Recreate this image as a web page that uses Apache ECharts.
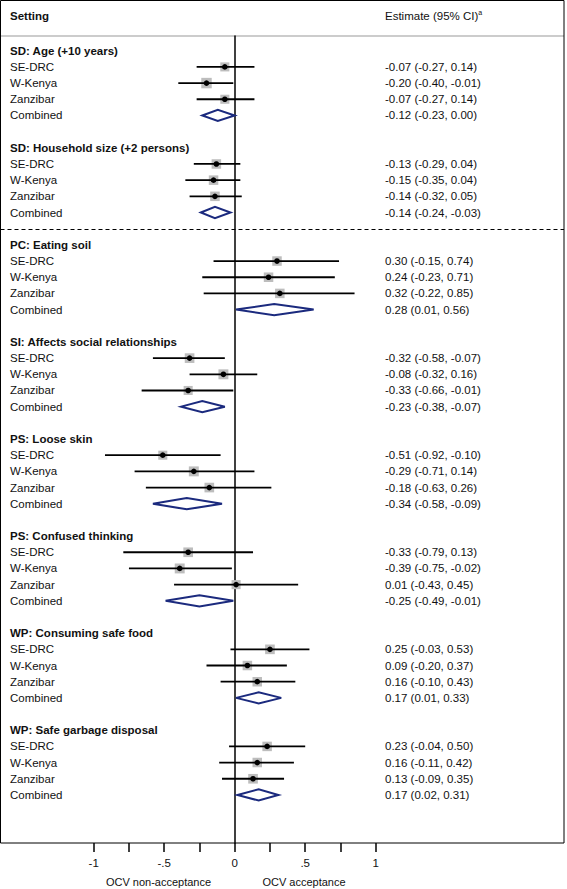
<!DOCTYPE html>
<html><head><meta charset="utf-8">
<script src="https://cdn.jsdelivr.net/npm/echarts@6/dist/echarts.min.js"></script>
<style>html,body{margin:0;padding:0;background:#fff}#chart{width:567px;height:889px}</style>
</head><body><div id="chart"></div>
<script>
// ---------- data ----------
const sectionTitles = ['SD: Age (+10 years)', 'SD: Household size (+2 persons)', 'PC: Eating soil',
  'SI: Affects social relationships', 'PS: Loose skin', 'PS: Confused thinking',
  'WP: Consuming safe food', 'WP: Safe garbage disposal'];
const settings = ['SE-DRC', 'W-Kenya', 'Zanzibar'];
const combinedLabel = 'Combined';
const studyEst = [[-0.07,-0.20,-0.07],[-0.13,-0.15,-0.14],[0.30,0.24,0.32],[-0.32,-0.08,-0.33],
  [-0.51,-0.29,-0.18],[-0.33,-0.39,0.01],[0.25,0.09,0.16],[0.23,0.16,0.13]];
const studyLo = [[-0.27,-0.40,-0.27],[-0.29,-0.35,-0.32],[-0.15,-0.23,-0.22],[-0.58,-0.32,-0.66],
  [-0.92,-0.71,-0.63],[-0.79,-0.75,-0.43],[-0.03,-0.20,-0.10],[-0.04,-0.11,-0.09]];
const studyHi = [[0.14,-0.01,0.14],[0.04,0.04,0.05],[0.74,0.71,0.85],[-0.07,0.16,-0.01],
  [-0.10,0.14,0.26],[0.13,-0.02,0.45],[0.53,0.37,0.43],[0.50,0.42,0.35]];
const studyWeight = [[30,40,30],[33,33,33],[33,33,33],[34,36,30],[30,36,34],[34,36,30],[34,33,33],[33,33,34]];
const combEst = [-0.12,-0.14,0.28,-0.23,-0.34,-0.25,0.17,0.17];
const combLo = [-0.23,-0.24,0.01,-0.38,-0.58,-0.49,0.01,0.02];
const combHi = [0.00,-0.03,0.56,-0.07,-0.09,-0.01,0.33,0.31];
const xTickLabels = {'-1':'-1','-0.5':'-.5','0':'0','0.5':'.5','1':'1'};
const sideLabels = ['OCV non-acceptance', 'OCV acceptance'];
const headerLeft = 'Setting';
const headerRight = 'Estimate (95% CI)';
const headerSup = 'a';
const dividerAfterSection = 1;

// ---------- build rows ----------
const ROWS_PER_SECTION = 6;
const fmt = v => v.toFixed(2);
const ciText = (e, l, h) => fmt(e) + ' (' + fmt(l) + ', ' + fmt(h) + ')';
const labelRows = [], studyData = [], diamondData = [];
sectionTitles.forEach((t, s) => {
  const base = s * ROWS_PER_SECTION;
  labelRows.push({row: base, text: t, bold: true, est: ''});
  settings.forEach((name, i) => {
    labelRows.push({row: base + 1 + i, text: name, bold: false,
      est: ciText(studyEst[s][i], studyLo[s][i], studyHi[s][i])});
    studyData.push([studyEst[s][i], studyLo[s][i], studyHi[s][i], base + 1 + i, studyWeight[s][i]]);
  });
  labelRows.push({row: base + 4, text: combinedLabel, bold: false, est: ciText(combEst[s], combLo[s], combHi[s])});
  diamondData.push([combEst[s], combLo[s], combHi[s], base + 4]);
});
const dividerRow = dividerAfterSection * ROWS_PER_SECTION + 5;

// ---------- layout ----------
const FONT = '"Liberation Sans", Arial, Helvetica, sans-serif';
const FS = 11.5;
const LEFT_X = 10, EST_X = 385;
const FRAME_R = 564, FRAME_B = 843, HEAD_Y = 36;

const chart = echarts.init(document.getElementById('chart'), null, {renderer: 'svg'});

function txt(text, x, y, bold, align) {
  return {type: 'text', style: {text: text, x: x, y: y, fill: '#111',
    font: (bold ? 'bold ' : '') + FS + 'px ' + FONT,
    align: align || 'left', verticalAlign: 'middle', textAlign: align || 'left', textVerticalAlign: 'middle'}};
}

const option = {
  animation: false,
  backgroundColor: '#fff',
  grid: {left: 93.7, width: 282, top: HEAD_Y, bottom: 889 - FRAME_B},
  xAxis: {type: 'value', min: -1, max: 1, interval: 0.25, position: 'bottom',
    axisLine: {show: false, onZero: false},
    axisTick: {show: true, length: 9, lineStyle: {color: '#000', width: 1.5}},
    splitLine: {show: false},
    axisLabel: {margin: 14, color: '#111', fontFamily: FONT, fontSize: 11.5,
      formatter: v => { const k = String(Math.round(v * 100) / 100); return xTickLabels[k] !== undefined ? xTickLabels[k] : ''; }}
  },
  yAxis: {type: 'value', inverse: true, min: -0.91, max: 48.97,
    axisLine: {show: true, onZero: true, lineStyle: {color: '#000', width: 1.5}},
    axisTick: {show: false}, axisLabel: {show: false}, splitLine: {show: false}
  },
  graphic: [
    {type: 'rect', shape: {x: 0.5, y: 0.5, width: FRAME_R - 0.5, height: FRAME_B - 0.5},
      style: {fill: 'none', stroke: '#000', lineWidth: 1}, z: 10},
    {type: 'line', shape: {x1: 0.5, y1: HEAD_Y, x2: FRAME_R, y2: HEAD_Y}, style: {stroke: '#999', lineWidth: 1}},
    {type: 'text', left: LEFT_X, top: 10, style: {text: headerLeft, font: 'bold ' + FS + 'px ' + FONT, fill: '#111'}},
    {type: 'text', left: EST_X, top: 9, style: {text: '{n|' + headerRight + '}{s|' + headerSup + '}', fill: '#111',
      rich: {n: {fontFamily: FONT, fontSize: FS, lineHeight: 14, fill: '#111'},
             s: {fontFamily: FONT, fontSize: 7, lineHeight: 14, verticalAlign: 'top', fill: '#111'}}}},
    {type: 'text', x: 158.5, y: 882, style: {text: sideLabels[0], font: '11px ' + FONT, fill: '#111',
      align: 'center', verticalAlign: 'middle', textAlign: 'center', textVerticalAlign: 'middle'}},
    {type: 'text', x: 304, y: 882, style: {text: sideLabels[1], font: '11px ' + FONT, fill: '#111',
      align: 'center', verticalAlign: 'middle', textAlign: 'center', textVerticalAlign: 'middle'}}
  ],
  series: [
    { // labels & estimate text
      type: 'custom', clip: false, silent: true,
      data: labelRows.map(r => [0, r.row]),
      encode: {x: 0, y: 1},
      renderItem: (params, api) => {
        const r = labelRows[params.dataIndex];
        const y = api.coord([0, r.row])[1];
        const ch = [txt(r.text, LEFT_X, y, r.bold)];
        if (r.est) ch.push(txt(r.est, EST_X, y, false));
        return {type: 'group', children: ch};
      }
    },
    { // divider line
      type: 'custom', clip: false, silent: true,
      data: [[0, dividerRow]], encode: {x: 0, y: 1},
      renderItem: (params, api) => {
        const y = Math.round(api.coord([0, dividerRow])[1]) + 0.5;
        return {type: 'line', shape: {x1: 0.5, y1: y, x2: FRAME_R, y2: y},
          style: {stroke: '#000', lineWidth: 1, lineDash: [4, 3]}};
      }
    },
    { // studies
      type: 'custom', clip: false, silent: true,
      data: studyData, encode: {x: [0, 1, 2], y: 3},
      renderItem: (params, api) => {
        const est = api.value(0), lo = api.value(1), hi = api.value(2), row = api.value(3), w = api.value(4);
        const c = api.coord([est, row]), l = api.coord([lo, row]), h = api.coord([hi, row]);
        const s = 9.5 * Math.sqrt(w / 33);
        return {type: 'group', children: [
          {type: 'rect', shape: {x: c[0] - s / 2, y: c[1] - s / 2, width: s, height: s}, style: {fill: '#bdbdbd'}},
          {type: 'line', shape: {x1: l[0], y1: l[1], x2: h[0], y2: h[1]}, style: {stroke: '#000', lineWidth: 1.8}},
          {type: 'circle', shape: {cx: c[0], cy: c[1], r: 2.8}, style: {fill: '#000'}}
        ]};
      }
    },
    { // combined diamonds
      type: 'custom', clip: false, silent: true,
      data: diamondData, encode: {x: [0, 1, 2], y: 3},
      renderItem: (params, api) => {
        const est = api.value(0), lo = api.value(1), hi = api.value(2), row = api.value(3);
        const c = api.coord([est, row]), l = api.coord([lo, row]), h = api.coord([hi, row]);
        const hh = 5.6;
        return {type: 'polygon', shape: {points: [[l[0], l[1]], [c[0], c[1] - hh], [h[0], h[1]], [c[0], c[1] + hh]]},
          style: {fill: '#fff', stroke: '#1b2a7e', lineWidth: 2, lineJoin: 'miter'}};
      }
    }
  ]
};
chart.setOption(option);
</script></body></html>
